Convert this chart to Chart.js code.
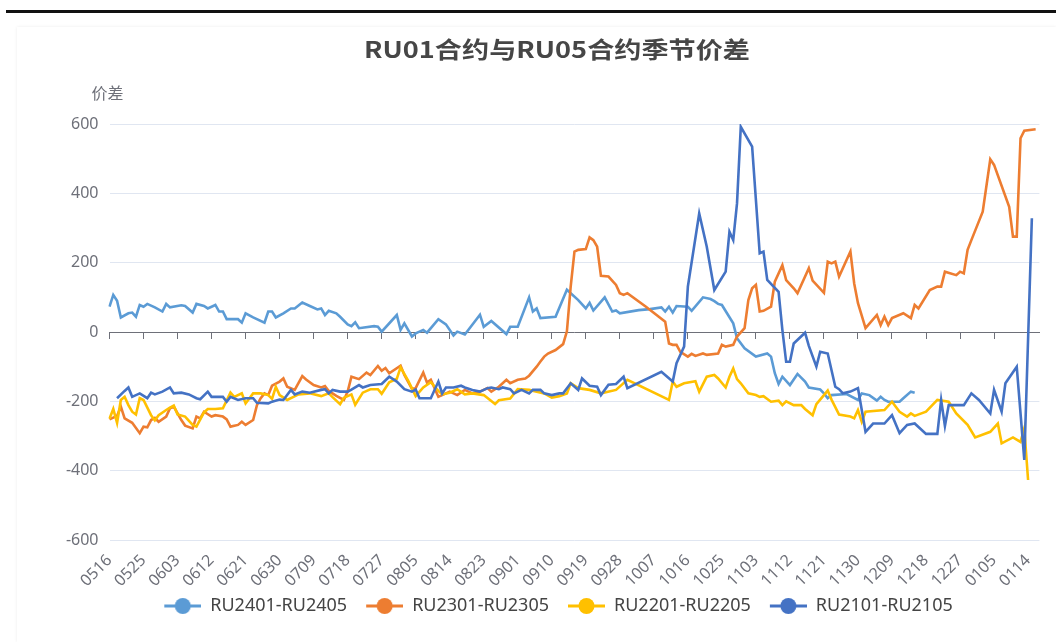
<!DOCTYPE html>
<html lang="zh">
<head>
  <meta charset="UTF-8">
  <title>RU01合约与RU05合约季节价差</title>
  <script src="https://cdn.jsdelivr.net/npm/chart.js"></script>
  <style>
    html, body {
      margin: 0;
      padding: 0;
      background: #fff;
      width: 1056px;
      height: 642px;
      overflow: hidden;
    }
    #topline {
      position: absolute;
      left: 6px; right: 0; top: 10px;
      height: 3px;
      background: #111;
    }
    #panel {
      position: absolute;
      left: 17px; right: 0; top: 27px; bottom: 0;
      box-shadow: 0 0 3px rgba(0,0,0,0.08);
    }
    #wrap {
      position: absolute;
      left: 0; top: 0;
      width: 1056px;
      height: 642px;
    }
  </style>
</head>
<body>
<div id="topline"></div>
<div id="panel"></div>
<div id="wrap"><canvas id="chart"></canvas></div>

<script>
  // day labels, every calendar day from 0516 to 0117
  const dayLabels = [];
  for (let i = 0; i < 247; i++) {
    const d = new Date(2023, 4, 16 + i);
    dayLabels.push(String(d.getMonth() + 1).padStart(2, '0') + String(d.getDate()).padStart(2, '0'));
  }

  const seriesNames = ['RU2401-RU2405', 'RU2301-RU2305', 'RU2201-RU2205', 'RU2101-RU2105'];
  const seriesColors = ['#5B9BD5', '#ED7D31', '#FFC000', '#4472C4'];
  const yTicks = [-600, -400, -200, 0, 200, 400, 600];

  // [day index, spread]
  const ru2401 = [[0,73],[1,107],[2,90],[3,42],[5,54],[6,56],[7,44],[8,78],[9,73],[10,81],[12,71],[14,59],[15,81],[16,71],
    [19,77],[20,75],[22,56],[23,81],[25,75],[26,68],[28,78],[29,59],[30,59],[31,37],[34,37],[35,27],[36,54],[38,42],
    [41,27],[42,59],[43,59],[44,42],[46,54],[48,68],[49,68],[51,85],[53,75],[55,65],[56,68],[57,49],[58,61],[60,54],
    [61,44],[63,22],[64,17],[65,28],[66,11],[70,17],[71,15],[72,1],[76,49],[77,6],[78,25],[80,-13],[81,-4],[83,6],
    [84,-2],[87,37],[89,22],[91,-10],[92,1],[94,-7],[98,50],[99,15],[101,32],[105,-6],[106,15],[108,15],[111,100],
    [112,59],[113,68],[114,40],[118,44],[121,122],[124,92],[126,68],[127,84],[128,62],[131,100],[133,59],[134,62],
    [135,54],[140,63],[143,66],[146,71],[147,59],[148,73],[149,56],[150,75],[153,73],[154,61],[157,100],[159,95],
    [160,89],[161,81],[162,78],[165,25],[166,-18],[168,-47],[171,-71],[174,-62],[175,-71],[176,-119],[177,-150],
    [178,-129],[180,-153],[182,-121],[184,-143],[185,-160],[188,-166],[189,-177],[190,-191],[191,-182],[195,-179],
    [198,-196],[199,-177],[201,-182],[203,-198],[204,-187],[205,-196],[206,-201],[209,-201],[210,-191],[212,-172],
    [213,-175]];

  const ru2301 = [[0,-252],[2,-242],[3,-215],[4,-249],[6,-262],[8,-292],[9,-273],[10,-275],[11,-254],[12,-248],
    [13,-259],[15,-244],[16,-220],[17,-215],[19,-254],[20,-270],[22,-278],[23,-244],[24,-249],[25,-230],[27,-244],
    [28,-240],[30,-244],[31,-252],[32,-273],[34,-268],[35,-259],[36,-268],[38,-254],[39,-211],[40,-191],[41,-177],
    [42,-182],[43,-155],[45,-143],[46,-134],[47,-158],[49,-167],[51,-127],[52,-137],[54,-153],[56,-160],[57,-156],
    [58,-170],[60,-184],[62,-196],[63,-172],[64,-129],[66,-136],[68,-117],[69,-124],[71,-98],[72,-112],[73,-104],
    [74,-119],[77,-97],[78,-124],[80,-164],[81,-162],[83,-117],[84,-146],[85,-138],[87,-187],[90,-172],[92,-182],
    [94,-167],[96,-177],[98,-172],[100,-162],[101,-172],[103,-158],[105,-138],[106,-148],[108,-138],[110,-134],
    [111,-126],[113,-100],[114,-85],[115,-71],[116,-62],[118,-52],[120,-35],[121,2],[122,131],[123,232],[124,237],
    [126,239],[127,273],[128,265],[129,246],[130,162],[132,160],[134,136],[135,112],[136,107],[137,112],[142,72],
    [147,30],[148,-33],[149,-37],[150,-37],[151,-57],[153,-71],[154,-63],[155,-69],[157,-62],[158,-66],[161,-62],
    [162,-37],[163,-42],[165,-37],[166,-13],[168,11],[169,92],[170,126],[171,136],[172,59],[173,61],[175,73],
    [176,145],[178,193],[179,150],[181,126],[182,112],[185,184],[186,148],[189,113],[190,203],[191,198],[192,203],
    [193,160],[196,232],[197,140],[198,83],[200,11],[203,49],[204,20],[205,44],[206,20],[207,40],[210,54],[212,40],
    [213,78],[214,68],[217,121],[219,131],[220,131],[221,174],[224,164],[225,174],[226,169],[227,237],[228,265],
    [231,347],[233,498],[234,482],[238,361],[239,275],[240,275],[241,559],[242,581],[245,585]];

  const ru2201 = [[0,-250],[1,-222],[2,-262],[3,-196],[4,-187],[5,-211],[6,-230],[7,-238],[8,-191],[9,-196],[11,-240],
    [12,-255],[13,-240],[15,-225],[16,-218],[17,-212],[18,-238],[20,-244],[22,-268],[23,-273],[25,-232],[26,-222],
    [28,-222],[30,-220],[32,-175],[33,-187],[35,-177],[36,-206],[38,-177],[40,-177],[42,-182],[43,-193],[44,-158],
    [45,-182],[47,-196],[50,-180],[53,-177],[56,-185],[58,-177],[59,-188],[61,-208],[62,-190],[64,-180],[65,-210],
    [67,-175],[69,-165],[71,-165],[72,-178],[74,-145],[76,-135],[77,-102],[79,-140],[81,-185],[83,-160],[85,-145],
    [87,-170],[88,-180],[90,-175],[92,-165],[94,-180],[96,-177],[99,-182],[102,-208],[103,-197],[106,-192],[108,-165],
    [111,-167],[113,-172],[115,-177],[117,-189],[119,-185],[121,-177],[122,-148],[124,-162],[127,-167],[130,-177],
    [134,-167],[137,-138],[148,-196],[149,-143],[150,-158],[152,-148],[155,-142],[156,-172],[158,-129],[160,-124],
    [161,-134],[163,-160],[164,-129],[165,-105],[166,-136],[167,-148],[169,-177],[171,-182],[172,-187],[173,-185],
    [175,-201],[177,-198],[178,-211],[179,-200],[181,-211],[183,-211],[184,-222],[186,-240],[187,-208],[190,-169],
    [191,-195],[193,-238],[196,-244],[197,-249],[198,-225],[199,-259],[200,-230],[205,-225],[207,-201],[209,-230],
    [211,-244],[212,-235],[213,-242],[216,-230],[219,-196],[222,-201],[224,-235],[227,-268],[229,-304],[233,-288],
    [235,-264],[236,-321],[239,-304],[241,-317],[242,-278],[243,-427]];

  const ru2101 = [[2,-191],[4,-170],[5,-160],[6,-187],[8,-177],[10,-191],[11,-175],[12,-180],[14,-172],[16,-160],
    [17,-177],[19,-175],[21,-180],[23,-191],[24,-194],[26,-172],[27,-187],[30,-187],[31,-201],[32,-187],[34,-196],
    [36,-191],[38,-191],[39,-204],[42,-206],[43,-201],[45,-195],[46,-196],[48,-167],[49,-180],[51,-172],[53,-175],
    [56,-167],[57,-165],[58,-177],[59,-167],[61,-172],[63,-172],[64,-166],[66,-153],[67,-160],[69,-153],[72,-150],
    [74,-129],[76,-143],[78,-165],[80,-172],[81,-166],[82,-191],[85,-191],[87,-143],[88,-177],[89,-160],[91,-160],
    [93,-155],[94,-160],[96,-167],[98,-172],[100,-162],[101,-160],[103,-165],[104,-160],[106,-165],[107,-177],
    [109,-167],[111,-177],[112,-167],[114,-167],[115,-177],[117,-182],[119,-177],[120,-177],[122,-148],[124,-167],
    [125,-134],[127,-155],[129,-158],[130,-182],[132,-152],[134,-150],[136,-129],[137,-162],[146,-115],[149,-143],
    [150,-90],[152,-42],[153,131],[156,342],[158,246],[160,121],[163,174],[164,289],[165,265],[166,371],[167,592],
    [170,535],[172,227],[173,232],[174,150],[177,116],[178,6],[179,-86],[180,-86],[181,-33],[184,-2],[185,-40],
    [187,-100],[188,-57],[190,-62],[192,-158],[193,-165],[194,-177],[196,-172],[198,-162],[200,-288],[202,-264],
    [205,-264],[207,-240],[209,-292],[211,-268],[213,-264],[216,-294],[219,-294],[220,-196],[221,-271],[222,-211],
    [226,-211],[228,-177],[230,-196],[233,-235],[234,-167],[236,-230],[237,-148],[240,-100],[242,-369],[244,328]];

  const allSeries = [ru2401, ru2301, ru2201, ru2101];

  // legend marker: line with a dot, drawn in the right part of a 51px box
  function legendIcon(color) {
    const c = document.createElement('canvas');
    c.width = 51;
    c.height = 18;
    const g = c.getContext('2d');
    g.strokeStyle = color;
    g.lineWidth = 3;
    g.beginPath();
    g.moveTo(14, 9);
    g.lineTo(51, 9);
    g.stroke();
    g.fillStyle = color;
    g.beginPath();
    g.arc(32.5, 9, 8, 0, Math.PI * 2);
    g.fill();
    return c;
  }

  // title and y axis name
  const textPlugin = {
    id: 'texts',
    afterDraw(chart) {
      const ctx = chart.ctx;
      const area = chart.chartArea;
      ctx.save();
      ctx.fillStyle = '#464646';
      ctx.font = 'bold 23px "Noto Sans CJK SC", "Noto Sans", sans-serif';
      ctx.textAlign = 'center';
      ctx.textBaseline = 'middle';
      ctx.translate(557, 49);
      ctx.scale(1.18, 1);
      ctx.fillText('RU01合约与RU05合约季节价差', 0, 0);
      ctx.restore();

      ctx.save();
      ctx.fillStyle = '#6E7079';
      ctx.font = '16px "Noto Sans CJK SC", "Noto Sans", sans-serif';
      ctx.textAlign = 'center';
      ctx.textBaseline = 'middle';
      ctx.fillText('价差', area.left - 2, 93);
      ctx.restore();
    }
  };

  const fontFamily = '"Noto Sans", "Noto Sans CJK SC", sans-serif';

  new Chart(document.getElementById('chart'), {
    type: 'line',
    data: {
      labels: dayLabels,
      datasets: allSeries.map((s, k) => ({
        label: seriesNames[k],
        data: s.map(([i, v]) => ({ x: dayLabels[i], y: v })),
        borderColor: seriesColors[k],
        backgroundColor: seriesColors[k],
        borderWidth: 2.6,
        pointRadius: 0,
        pointHoverRadius: 0,
        pointStyle: legendIcon(seriesColors[k]),
        tension: 0,
        fill: false,
        order: 3 - k
      }))
    },
    options: {
      responsive: true,
      maintainAspectRatio: false,
      animation: false,
      layout: { padding: { top: 124, left: 62, right: 15, bottom: 17 } },
      plugins: {
        title: { display: false },
        tooltip: { enabled: false },
        legend: {
          position: 'bottom',
          labels: {
            usePointStyle: true,
            pointStyleWidth: 51,
            padding: 5,
            color: '#444',
            font: { family: fontFamily, size: 18 },
            sort: (a, b) => a.datasetIndex - b.datasetIndex
          }
        }
      },
      scales: {
        x: {
          type: 'category',
          position: 'bottom',
          grid: { display: false },
          border: { display: false },
          ticks: {
            autoSkip: false,
            minRotation: 45,
            maxRotation: 45,
            color: '#6E7079',
            font: { family: fontFamily, size: 16 },
            callback: (val, idx) => idx % 9 === 0 ? dayLabels[idx] : ''
          },
          afterFit: (scale) => { scale.height = 52; }
        },
        x2: {
          type: 'category',
          position: { y: 0 },
          grid: {
            drawOnChartArea: false,
            drawTicks: true,
            tickLength: 6,
            lineWidth: 1,
            color: (c) => c.index % 9 === 0 ? '#6E7079' : 'transparent'
          },
          border: { display: true, color: '#6E7079', width: 1 },
          ticks: { display: false, autoSkip: false }
        },
        y: {
          min: -600,
          max: 600,
          afterBuildTicks: (scale) => { scale.ticks = yTicks.map(v => ({ value: v })); },
          grid: { color: '#E0E6F1', drawTicks: false },
          border: { display: false },
          ticks: {
            padding: 11,
            color: '#6E7079',
            font: { family: fontFamily, size: 16 }
          },
          afterFit: (scale) => { scale.width = 47.5; }
        }
      }
    },
    plugins: [textPlugin]
  });
</script>
</body>
</html>
